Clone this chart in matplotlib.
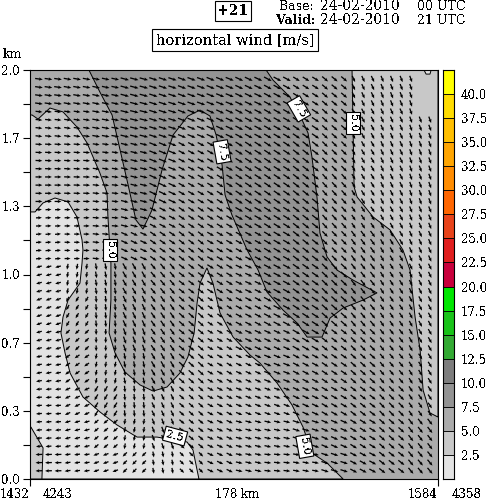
import numpy as np
import matplotlib
matplotlib.use("Agg")
import matplotlib.pyplot as plt

plt.rcParams['font.family'] = ['DejaVu Serif']
plt.rcParams['font.size'] = 8.5
plt.rcParams['text.antialiased'] = False

W, H = 487, 499

# wind speed bands
levels = [0, 2.5, 5, 7.5, 10, 12.5, 15, 17.5, 20, 22.5, 25, 27.5, 30, 32.5, 35, 37.5, 40]
band_colors = ['#e3e3e3', '#c8c8c8', '#ababab', '#939393', '#7d7d7d', '#33aa33', '#19c319', '#00e600',
               '#c8003c', '#e01e1e', '#e8431a', '#ff6600', '#ff8c00', '#ffa500', '#ffbf00', '#ffdc00', '#ffff00']
bar_labels = ['2.5', '5.0', '7.5', '10.0', '12.5', '15.0', '17.5', '20.0', '22.5', '25.0',
              '27.5', '30.0', '32.5', '35.0', '37.5', '40.0']

height_ticks = [0, 1/6, 2/6, 3/6, 4/6, 5/6, 1, 7/6, 8/6, 9/6, 10/6, 11/6, 2]
height_labels = ['0.0', '', '0.3', '', '0.7', '', '1.0', '', '1.3', '', '1.7', '', '2.0']

# contour outlines, distance km / height km
low_x = [0, 2.2, 5.7, 10.9, 16.6, 20.5, 22.7, 23.1, 22.7, 21.8, 16.6, 14.4, 13.5, 15.3, 17.5, 23.1, 30.5, 38.0,
         46.7, 55.4, 68.5, 71.1, 73.7, 5.2, 5.7, 0.4, 0]
low_y = [1.306, 1.306, 1.350, 1.374, 1.355, 1.281, 1.169, 1.120, 1.056, 0.958, 0.875, 0.792, 0.714, 0.616, 0.518,
         0.401, 0.328, 0.264, 0.205, 0.205, 0.181, 0.142, 0, 0, 0.152, 0.254, 0.254]

mid_x = [0, 0.9, 3.5, 8.7, 14.4, 20.5, 24.9, 30.5, 33.6, 34.0, 34.9, 35.3, 35.3, 34.5, 37.1, 41.4, 48.0, 53.7, 59.8,
         65.4, 68.9, 71.6, 72.9, 74.2, 77.2, 79.8, 82.9, 88.6, 96.0, 100.3, 107.8, 114.3, 119.1, 123.0, 129.6, 136.6, 0]
mid_y = [1.780, 1.780, 1.760, 1.814, 1.795, 1.721, 1.643, 1.496, 1.399, 1.281, 1.120, 1.056, 0.875, 0.714, 0.616,
         0.523, 0.460, 0.430, 0.450, 0.518, 0.597, 0.714, 0.861, 0.958, 1.032, 0.958, 0.812, 0.694, 0.606, 0.567,
         0.469, 0.362, 0.254, 0.127, 0.078, 0, 0]

right_x = [140.5, 141.4, 142.7, 149.7, 157.1, 162.7, 165.8, 168.0, 170.2, 171.5, 174.5, 178, 178]
right_y = [2.0, 1.428, 1.379, 1.281, 1.218, 1.120, 1.022, 0.792, 0.631, 0.435, 0.323, 0.303, 2.0]

dark_x = [25.7, 30.5, 35.8, 39.3, 42.8, 46.2, 49.3, 53.2, 57.6, 62.4, 68.9, 74.2, 78.5, 81.2, 83.8, 85.1, 88.1, 94.7,
          99.5, 103.4, 110.4, 116.5, 120.9, 127.4, 130.9, 136.6, 145.3, 151.4, 140.9, 133.9, 129.6, 126.5, 125.2,
          123.0, 121.3, 118.7, 113.4, 106.0, 103.0]
dark_y = [2.0, 1.892, 1.780, 1.609, 1.438, 1.267, 1.222, 1.315, 1.511, 1.682, 1.775, 1.804, 1.775, 1.682, 1.535,
          1.389, 1.291, 1.120, 1.022, 0.914, 0.826, 0.763, 0.694, 0.694, 0.787, 0.836, 0.875, 0.910, 0.973, 1.022,
          1.086, 1.203, 1.379, 1.575, 1.692, 1.756, 1.868, 1.951, 2.0]

blip_x = [171.9, 172.8, 174.5, 175.0]
blip_y = [2.0, 1.98, 1.98, 2.0]

# wind direction (deg from east) and speed, read per block of the section, top row first
wind_dir = np.array([
    [-8, -10, -12, -15, -18, -20, -22, -25, -28, -32, -40, -65, -68, -70],
    [-6, -8, -10, -14, -18, -22, -25, -28, -30, -34, -42, -62, -66, -70],
    [-3, -4, -8, -14, -22, -28, -30, -32, -33, -38, -45, -60, -66, -70],
    [0, -2, -6, -14, -25, -30, -32, -33, -34, -38, -48, -58, -64, -70],
    [2, 0, -4, -14, -28, -34, -32, -30, -32, -38, -48, -56, -62, -68],
    [5, 0, -6, -25, -35, -38, -30, -28, -30, -38, -46, -54, -60, -66],
    [195, 260, -80, -60, -50, -38, -32, -25, -28, -35, -44, -52, -58, -64],
    [200, 240, -85, -65, -55, -42, -33, -28, -28, -33, -42, -50, -56, -62],
    [195, 225, 270, -70, -55, -40, -30, -25, -25, -30, -38, -46, -52, -60],
    [190, 215, 260, -80, -60, -42, -30, -25, -22, -28, -34, -42, -50, -58],
    [185, 205, 240, -85, -65, -42, -28, -22, -20, -25, -30, -38, -46, -56],
    [185, 195, 220, 260, -70, -40, -25, -15, -12, -18, -24, -32, -42, -52],
    [182, 188, 200, 225, -80, -45, -25, -12, -6, -10, -18, -28, -38, -50],
])
wind_speed = np.array([
    [6, 6, 6, 8, 8, 8, 8, 8, 8, 6, 6, 4, 4, 4],
    [4, 4, 6, 8, 8, 8, 8, 8, 8, 8, 6, 4, 4, 4],
    [4, 4, 4, 6, 8, 6, 6, 8, 8, 8, 6, 4, 4, 4],
    [4, 4, 4, 6, 8, 6, 6, 8, 8, 8, 6, 4, 4, 4],
    [2, 2, 4, 6, 6, 6, 6, 8, 8, 8, 6, 4, 4, 4],
    [2, 2, 4, 6, 6, 6, 6, 6, 8, 8, 6, 6, 4, 4],
    [2, 2, 4, 6, 6, 6, 6, 6, 8, 8, 8, 6, 4, 4],
    [2, 2, 4, 6, 6, 6, 4, 6, 8, 8, 8, 6, 4, 4],
    [2, 2, 2, 6, 6, 6, 4, 6, 6, 8, 6, 6, 4, 4],
    [2, 2, 2, 4, 6, 6, 4, 4, 6, 6, 6, 6, 4, 4],
    [2, 2, 4, 4, 4, 4, 4, 4, 4, 6, 6, 6, 6, 4],
    [2, 2, 2, 2, 4, 4, 4, 4, 4, 6, 6, 6, 6, 6],
    [4, 2, 2, 2, 2, 2, 4, 4, 4, 4, 6, 6, 6, 6],
])

# contour labels: x km, height km, text, rotation
label_x = [34.9, 83.8, 117.3, 141.0, 63.3, 119.9]
label_y = [1.12, 1.60, 1.81, 1.74, 0.21, 0.16]
label_txt = ['5.0', '7.5', '7.5', '5.0', '2.5', '5.0']
label_rot = [270, 280, 300, 270, 345, 280]

fig = plt.figure(figsize=(W / 100, H / 100), dpi=100)
ax = fig.add_axes([30 / W, 1 - 479 / H, 408 / W, 409 / H])
ax.set_facecolor(band_colors[2])
ax.set_xlim(0, 178)
ax.set_ylim(0, 2)

ax.fill(mid_x, mid_y, facecolor=band_colors[1], edgecolor='black', lw=0.7, zorder=1)
ax.fill(low_x, low_y, facecolor=band_colors[0], edgecolor='black', lw=0.7, zorder=2)
ax.fill(right_x, right_y, facecolor=band_colors[1], edgecolor='black', lw=0.7, zorder=1)
ax.fill(dark_x, dark_y, facecolor=band_colors[3], edgecolor='black', lw=0.7, zorder=1)
ax.fill(blip_x, blip_y, facecolor=band_colors[0], edgecolor='black', lw=0.7, zorder=1)

# wind arrows, each one takes the value of the block it falls in
col_x = np.linspace(3.9, 174.5, 42)
row_y = np.linspace(1.956, 0.04, 49)
ii = np.minimum((np.arange(49) * 13) // 49, 12)
jj = np.minimum((np.arange(42) * 14) // 42, 13)
ang = np.radians(wind_dir[np.ix_(ii, jj)])
length = 5 + 0.45 * wind_speed[np.ix_(ii, jj)]
u = length * np.cos(ang)
v = length * np.sin(ang)
X, Y = np.meshgrid(col_x, row_y)
keep = np.ones(X.shape, dtype=bool)
keep[:5, -2:] = False  # no arrows in the top right corner
ax.quiver(X[keep], Y[keep], u[keep], v[keep], units='dots', angles='uv', scale_units='dots', scale=1,
          pivot='middle', width=1.3, headwidth=2.6, headlength=3, headaxislength=2.5, color='black', zorder=3)

for x, y, t, r in zip(label_x, label_y, label_txt, label_rot):
    ax.text(x, y, t, rotation=r, ha='center', va='center', fontsize=8, zorder=4,
            bbox=dict(boxstyle='square,pad=0.2', fc='white', ec='black', lw=0.8))

ax.set_yticks(height_ticks)
ax.set_yticklabels(height_labels)
ax.set_xticks([0, 178])
ax.set_xticklabels(['', ''])
ax.tick_params(axis='both', length=5, width=0.8, pad=2)

# colour bar
cax = fig.add_axes([443 / W, 1 - 479 / H, 11 / W, 409 / H])
cax.bar(0, [2.5] * len(levels), bottom=levels, width=1, color=band_colors, edgecolor='black', lw=0.6)
cax.set_xlim(-0.5, 0.5)
cax.set_ylim(0, 42.5)
cax.set_xticks([])
cax.yaxis.tick_right()
cax.set_yticks(levels[1:])
cax.set_yticklabels(bar_labels)
cax.tick_params(axis='y', length=0, pad=5)

# text around the plot
fig.text(233 / W, 1 - 11 / H, '+21', ha='center', va='center', fontsize=10, fontweight='bold',
         bbox=dict(boxstyle='square,pad=0.2', fc='white', ec='black', lw=0.8))
fig.text(235 / W, 1 - 40 / H, 'horizontal wind [m/s]', ha='center', va='center', fontsize=10.5,
         bbox=dict(boxstyle='square,pad=0.25', fc='white', ec='black', lw=0.8))
fig.text(279 / W, 1 - 6 / H, 'Base:', ha='left', va='center', fontsize=9)
fig.text(276 / W, 1 - 20 / H, 'Valid:', ha='left', va='center', fontsize=9, fontweight='bold')
fig.text(320 / W, 1 - 6 / H, '24-02-2010', ha='left', va='center', fontsize=10)
fig.text(320 / W, 1 - 20 / H, '24-02-2010', ha='left', va='center', fontsize=10)
fig.text(417 / W, 1 - 6 / H, '00 UTC', ha='left', va='center', fontsize=9)
fig.text(417 / W, 1 - 20 / H, '21 UTC', ha='left', va='center', fontsize=9)
fig.text(3 / W, 1 - 55 / H, 'km', ha='left', va='center', fontsize=9)
fig.text(0 / W, 1 - 494 / H, '1432', ha='left', va='center', fontsize=8.5)
fig.text(43 / W, 1 - 494 / H, '4243', ha='left', va='center', fontsize=8.5)
fig.text(237 / W, 1 - 494 / H, '178 km', ha='center', va='center', fontsize=8.5)
fig.text(408 / W, 1 - 494 / H, '1584', ha='left', va='center', fontsize=8.5)
fig.text(452 / W, 1 - 494 / H, '4358', ha='left', va='center', fontsize=8.5)

fig.savefig('out.png', dpi=100)
